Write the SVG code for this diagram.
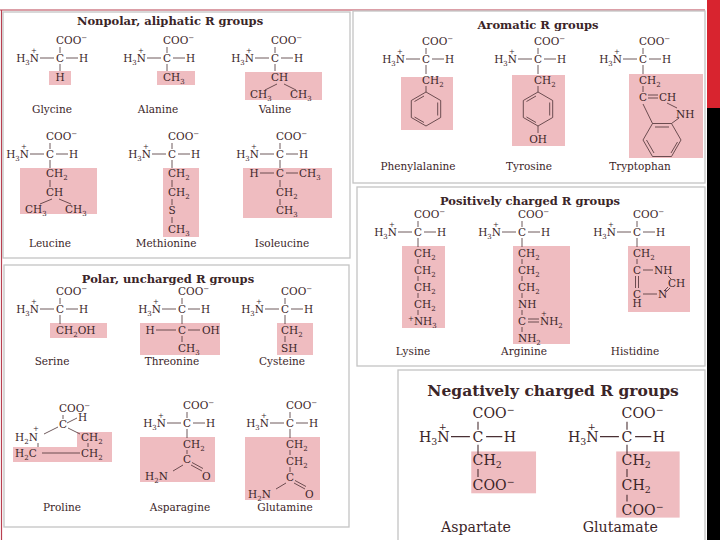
<svg xmlns="http://www.w3.org/2000/svg" width="720" height="540" viewBox="0 0 720 540">
<style>
text{font-family:"DejaVu Serif","Liberation Serif",serif;font-size:10.5px;fill:#3b2528}
.h{font-weight:bold;font-size:11.5px;text-anchor:middle}
.nm{text-anchor:middle;font-size:10.5px}
.m{text-anchor:middle}
.e{text-anchor:end}
.s{font-size:7px;baseline-shift:-2.5px}
.sp{font-size:7px;baseline-shift:4px}
.pl{font-size:7px}
.ln{stroke:#4a3034;stroke-width:0.8;fill:none}
.bx{fill:#efbcc0}
.pn{fill:#fff;stroke:#c4c4c4;stroke-width:1.3}
</style>
<rect width="720" height="540" fill="#fff"/>
<rect x="707" y="0" width="13" height="108" fill="#d8242f"/>
<rect x="707" y="108" width="13" height="432" fill="#000"/>
<path d="M0,10H705M1.5,10V540" stroke="#b84050" stroke-width="1.2" fill="none"/>

<g id="panels">
<rect class="pn" x="3" y="12" width="347" height="246"/>
<rect class="pn" x="353" y="11" width="352" height="172"/>
<rect class="pn" x="357" y="187" width="348" height="179"/>
<rect class="pn" x="4" y="265" width="345" height="262"/>
<rect class="pn" x="398" y="370" width="307" height="172"/>
</g>

<g id="titles">
<text class="h" x="170" y="25">Nonpolar, aliphatic R groups</text>
<text class="h" x="538" y="29">Aromatic R groups</text>
<text class="h" x="530" y="205">Positively charged R groups</text>
<text class="h" x="168" y="283">Polar, uncharged R groups</text>
<text class="h" x="553" y="396" style="font-size:15.5px">Negatively charged R groups</text>
</g>

<!-- Nonpolar -->
<g id="glycine" transform="translate(60,62)">
<rect class="bx" x="-11" y="9" width="22" height="14"/>
<text x="-4" y="-18">COO<tspan class="sp">−</tspan></text><text class="e" x="-21" y="0">H<tspan class="s">3</tspan>N</text><text class="pl" x="-29" y="-9">+</text><text class="m" x="0" y="0">C</text><text x="19" y="0">H</text>
<path class="ln" d="M0,-15V-9M-20,-4H-6M6,-4H18M0,2V9"/>
<text class="m" x="0" y="19">H</text>
<text class="nm" x="-8" y="51">Glycine</text>
</g>
<g id="alanine" transform="translate(167,62)">
<rect class="bx" x="-10" y="9" width="38" height="14"/>
<text x="-4" y="-18">COO<tspan class="sp">−</tspan></text><text class="e" x="-21" y="0">H<tspan class="s">3</tspan>N</text><text class="pl" x="-29" y="-9">+</text><text class="m" x="0" y="0">C</text><text x="19" y="0">H</text>
<path class="ln" d="M0,-15V-9M-20,-4H-6M6,-4H18M0,2V9"/>
<text x="-4" y="19">CH<tspan class="s">3</tspan></text>
<text class="nm" x="-9" y="51">Alanine</text>
</g>
<g id="valine" transform="translate(275,62)">
<rect class="bx" x="-30" y="10" width="77" height="28"/>
<text x="-4" y="-18">COO<tspan class="sp">−</tspan></text><text class="e" x="-21" y="0">H<tspan class="s">3</tspan>N</text><text class="pl" x="-29" y="-9">+</text><text class="m" x="0" y="0">C</text><text x="19" y="0">H</text>
<path class="ln" d="M0,-15V-9M-20,-4H-6M6,-4H18M0,2V9M2,22L-10,28M9,22L21,28"/>
<text x="-4" y="19">CH</text>
<text x="-25" y="36">CH<tspan class="s">3</tspan></text><text x="15" y="36">CH<tspan class="s">3</tspan></text>
<text class="nm" x="0" y="51">Valine</text>
</g>
<g id="leucine" transform="translate(50,158)">
<rect class="bx" x="-30" y="10" width="77" height="46"/>
<text x="-4" y="-18">COO<tspan class="sp">−</tspan></text><text class="e" x="-21" y="0">H<tspan class="s">3</tspan>N</text><text class="pl" x="-29" y="-9">+</text><text class="m" x="0" y="0">C</text><text x="19" y="0">H</text>
<path class="ln" d="M0,-15V-9M-20,-4H-6M6,-4H18M0,2V10M0,22V29M2,41L-10,46M9,41L21,46"/>
<text x="-4" y="19">CH<tspan class="s">2</tspan></text>
<text x="-4" y="38">CH</text>
<text x="-25" y="55">CH<tspan class="s">3</tspan></text><text x="15" y="55">CH<tspan class="s">3</tspan></text>
<text class="nm" x="0" y="89">Leucine</text>
</g>
<g id="methionine" transform="translate(172,158)">
<rect class="bx" x="-9" y="10" width="36" height="69"/>
<text x="-4" y="-18">COO<tspan class="sp">−</tspan></text><text class="e" x="-21" y="0">H<tspan class="s">3</tspan>N</text><text class="pl" x="-29" y="-9">+</text><text class="m" x="0" y="0">C</text><text x="19" y="0">H</text>
<path class="ln" d="M0,-15V-9M-20,-4H-6M6,-4H18M0,2V10M0,22V29M0,41V47M0,59V65"/>
<text x="-4" y="19">CH<tspan class="s">2</tspan></text>
<text x="-4" y="38">CH<tspan class="s">2</tspan></text>
<text class="m" x="0" y="56">S</text>
<text x="-4" y="75">CH<tspan class="s">3</tspan></text>
<text class="nm" x="-6" y="89">Methionine</text>
</g>
<g id="isoleucine" transform="translate(280,158)">
<rect class="bx" x="-37" y="10" width="89" height="50"/>
<text x="-4" y="-18">COO<tspan class="sp">−</tspan></text><text class="e" x="-21" y="0">H<tspan class="s">3</tspan>N</text><text class="pl" x="-29" y="-9">+</text><text class="m" x="0" y="0">C</text><text x="19" y="0">H</text>
<path class="ln" d="M0,-15V-9M-20,-4H-6M6,-4H18M0,2V10M-20,15H-6M6,15H18M0,22V29M0,41V47"/>
<text class="m" x="-26" y="19">H</text><text class="m" x="0" y="19">C</text><text x="19" y="19">CH<tspan class="s">3</tspan></text>
<text x="-4" y="38">CH<tspan class="s">2</tspan></text>
<text x="-4" y="56">CH<tspan class="s">3</tspan></text>
<text class="nm" x="2" y="89">Isoleucine</text>
</g>

<!-- Aromatic -->
<g id="phenylalanine" transform="translate(426,63)">
<rect class="bx" x="-25" y="14" width="52" height="53"/>
<text x="-4" y="-18">COO<tspan class="sp">−</tspan></text><text class="e" x="-21" y="0">H<tspan class="s">3</tspan>N</text><text class="pl" x="-29" y="-9">+</text><text class="m" x="0" y="0">C</text><text x="19" y="0">H</text>
<path class="ln" d="M0,-15V-9M-20,-4H-6M6,-4H18M0,2V11M0,23V29"/>
<text x="-4" y="21">CH<tspan class="s">2</tspan></text>
<path class="ln" d="M0,29L14.7,37.5V54.5L0,63L-14.7,54.5V37.5Z M11.7,39.5V52.5 M-2,59.5L-11.5,54 M-11.5,38.5L-2,33"/>
<text class="nm" x="-8" y="107">Phenylalanine</text>
</g>
<g id="tyrosine" transform="translate(538,63)">
<rect class="bx" x="-26" y="12" width="53" height="71"/>
<text x="-4" y="-18">COO<tspan class="sp">−</tspan></text><text class="e" x="-21" y="0">H<tspan class="s">3</tspan>N</text><text class="pl" x="-29" y="-9">+</text><text class="m" x="0" y="0">C</text><text x="19" y="0">H</text>
<path class="ln" d="M0,-15V-9M-20,-4H-6M6,-4H18M0,2V11M0,23V29M0,63V70"/>
<text x="-4" y="21">CH<tspan class="s">2</tspan></text>
<path class="ln" d="M0,29L14.7,37.5V54.5L0,63L-14.7,54.5V37.5Z M11.7,39.5V52.5 M-2,59.5L-11.5,54 M-11.5,38.5L-2,33"/>
<text class="m" x="0" y="80">OH</text>
<text class="nm" x="-9" y="107">Tyrosine</text>
</g>
<g id="tryptophan" transform="translate(643,63)">
<rect class="bx" x="-14" y="11" width="74" height="84"/>
<text x="-4" y="-18">COO<tspan class="sp">−</tspan></text><text class="e" x="-21" y="0">H<tspan class="s">3</tspan>N</text><text class="pl" x="-29" y="-9">+</text><text class="m" x="0" y="0">C</text><text x="19" y="0">H</text>
<path class="ln" d="M0,-15V-9M-20,-4H-6M6,-4H18M0,2V11M0,23V29M5,32H15M5,35H15M24,40L34,45M0,41L9.5,60.5M36,55L28.5,60.5"/>
<text x="-4" y="21">CH<tspan class="s">2</tspan></text>
<text class="m" x="0" y="38">C</text><text x="16" y="38">CH</text>
<text x="33" y="55">NH</text>
<path class="ln" d="M38,77L28.5,60.5H9.5L0,77L9.5,93.5H28.5Z M3.5,77L11,90 M28,90L34.5,79 M12,64H26"/>
<text class="nm" x="-3" y="107">Tryptophan</text>
</g>

<!-- Positive -->
<g id="lysine" transform="translate(418,236)">
<rect class="bx" x="-16" y="10" width="43" height="82"/>
<text x="-4" y="-18">COO<tspan class="sp">−</tspan></text><text class="e" x="-21" y="0">H<tspan class="s">3</tspan>N</text><text class="pl" x="-29" y="-9">+</text><text class="m" x="0" y="0">C</text><text x="19" y="0">H</text>
<path class="ln" d="M0,-15V-9M-20,-4H-6M6,-4H18M0,2V11M0,23V28M0,40V45M0,57V62M0,74V79"/>
<text x="-4" y="21">CH<tspan class="s">2</tspan></text>
<text x="-4" y="38">CH<tspan class="s">2</tspan></text>
<text x="-4" y="55">CH<tspan class="s">2</tspan></text>
<text x="-4" y="72">CH<tspan class="s">2</tspan></text>
<text x="-10" y="89"><tspan class="sp">+</tspan>NH<tspan class="s">3</tspan></text>
<text class="nm" x="-5" y="119">Lysine</text>
</g>
<g id="arginine" transform="translate(522,236)">
<rect class="bx" x="-9" y="10" width="57" height="98"/>
<text x="-4" y="-18">COO<tspan class="sp">−</tspan></text><text class="e" x="-21" y="0">H<tspan class="s">3</tspan>N</text><text class="pl" x="-29" y="-9">+</text><text class="m" x="0" y="0">C</text><text x="19" y="0">H</text>
<path class="ln" d="M0,-15V-9M-20,-4H-6M6,-4H18M0,2V11M0,23V28M0,40V45M0,57V62M0,74V79M6,83H17M6,86H17M0,91V96"/>
<text x="-4" y="21">CH<tspan class="s">2</tspan></text>
<text x="-4" y="38">CH<tspan class="s">2</tspan></text>
<text x="-4" y="55">CH<tspan class="s">2</tspan></text>
<text x="-4" y="72">NH</text>
<text class="m" x="0" y="89">C</text><text x="18" y="89">NH<tspan class="s">2</tspan></text><text class="pl" x="19" y="80">+</text>
<text x="-4" y="106">NH<tspan class="s">2</tspan></text>
<text class="nm" x="2" y="119">Arginine</text>
</g>
<g id="histidine" transform="translate(637,236)">
<rect class="bx" x="-9" y="10" width="62" height="66"/>
<text x="-4" y="-18">COO<tspan class="sp">−</tspan></text><text class="e" x="-21" y="0">H<tspan class="s">3</tspan>N</text><text class="pl" x="-29" y="-9">+</text><text class="m" x="0" y="0">C</text><text x="19" y="0">H</text>
<path class="ln" d="M0,-15V-9M-20,-4H-6M6,-4H18M0,2V11M0,23V28M6,34H16M-1.5,40V52M1.5,40V52M6,58H20M31,40L34,43M31,51L27,55M33,52L29,56"/>
<text x="-4" y="21">CH<tspan class="s">2</tspan></text>
<text class="m" x="0" y="38">C</text><text x="17" y="38">NH</text>
<text x="31" y="51">CH</text>
<text class="m" x="0" y="62">C</text><text x="21" y="62">N</text>
<text class="m" x="0" y="71">H</text>
<text class="nm" x="-2" y="119">Histidine</text>
</g>

<!-- Polar -->
<g id="serine" transform="translate(60,313)">
<rect class="bx" x="-10" y="10" width="57" height="15"/>
<text x="-4" y="-18">COO<tspan class="sp">−</tspan></text><text class="e" x="-21" y="0">H<tspan class="s">3</tspan>N</text><text class="pl" x="-29" y="-9">+</text><text class="m" x="0" y="0">C</text><text x="19" y="0">H</text>
<path class="ln" d="M0,-15V-9M-20,-4H-6M6,-4H18M0,2V11"/>
<text x="-4" y="21">CH<tspan class="s">2</tspan>OH</text>
<text class="nm" x="-8" y="52">Serine</text>
</g>
<g id="threonine" transform="translate(182,313)">
<rect class="bx" x="-42" y="10" width="80" height="32"/>
<text x="-4" y="-18">COO<tspan class="sp">−</tspan></text><text class="e" x="-21" y="0">H<tspan class="s">3</tspan>N</text><text class="pl" x="-29" y="-9">+</text><text class="m" x="0" y="0">C</text><text x="19" y="0">H</text>
<path class="ln" d="M0,-15V-9M-20,-4H-6M6,-4H18M0,2V11M-26,17H-6M6,17H18M0,23V29"/>
<text class="m" x="-32" y="21">H</text><text class="m" x="0" y="21">C</text><text x="20" y="21">OH</text>
<text x="-4" y="39">CH<tspan class="s">3</tspan></text>
<text class="nm" x="-10" y="52">Threonine</text>
</g>
<g id="cysteine" transform="translate(285,313)">
<rect class="bx" x="-8" y="10" width="36" height="32"/>
<text x="-4" y="-18">COO<tspan class="sp">−</tspan></text><text class="e" x="-21" y="0">H<tspan class="s">3</tspan>N</text><text class="pl" x="-29" y="-9">+</text><text class="m" x="0" y="0">C</text><text x="19" y="0">H</text>
<path class="ln" d="M0,-15V-9M-20,-4H-6M6,-4H18M0,2V11M0,23V29"/>
<text x="-4" y="21">CH<tspan class="s">2</tspan></text>
<text x="-4" y="39">SH</text>
<text class="nm" x="-3" y="52">Cysteine</text>
</g>
<g id="proline">
<path class="bx" d="M77,432H112V462H13V447H77Z"/>
<text x="59" y="412">COO<tspan class="sp">−</tspan></text>
<text class="m" x="63" y="428">C</text><text x="78" y="421">H</text>
<text x="15" y="441">H<tspan class="s">2</tspan>N</text><text class="pl" x="33" y="431">+</text>
<text x="81" y="441">CH<tspan class="s">2</tspan></text>
<text x="15" y="457">H<tspan class="s">2</tspan>C</text>
<text x="81" y="457">CH<tspan class="s">2</tspan></text>
<path class="ln" d="M63,415V419M67,423L77,418M44,434L58,427M68,428L80,434M38,443V447M42,453H80M88,443V447"/>
<text class="nm" x="62" y="511">Proline</text>
</g>
<g id="asparagine" transform="translate(187,427)">
<rect class="bx" x="-47" y="10" width="75" height="45"/>
<text x="-4" y="-18">COO<tspan class="sp">−</tspan></text><text class="e" x="-21" y="0">H<tspan class="s">3</tspan>N</text><text class="pl" x="-29" y="-9">+</text><text class="m" x="0" y="0">C</text><text x="19" y="0">H</text>
<path class="ln" d="M0,-15V-9M-20,-4H-6M6,-4H18M0,2V11M0,23V27M-4,38L-14,44M4,38L15,44M5,35.5L16,41.5"/>
<text x="-4" y="21">CH<tspan class="s">2</tspan></text>
<text class="m" x="0" y="36">C</text>
<text x="-42" y="53">H<tspan class="s">2</tspan>N</text><text x="15" y="53">O</text>
<text class="nm" x="-7" y="84">Asparagine</text>
</g>
<g id="glutamine" transform="translate(290,427)">
<rect class="bx" x="-45" y="10" width="75" height="63"/>
<text x="-4" y="-18">COO<tspan class="sp">−</tspan></text><text class="e" x="-21" y="0">H<tspan class="s">3</tspan>N</text><text class="pl" x="-29" y="-9">+</text><text class="m" x="0" y="0">C</text><text x="19" y="0">H</text>
<path class="ln" d="M0,-15V-9M-20,-4H-6M6,-4H18M0,2V11M0,23V28M0,40V45M-4,56L-14,62M4,56L15,62M5,53.5L16,59.5"/>
<text x="-4" y="21">CH<tspan class="s">2</tspan></text>
<text x="-4" y="38">CH<tspan class="s">2</tspan></text>
<text class="m" x="0" y="54">C</text>
<text x="-42" y="71">H<tspan class="s">2</tspan>N</text><text x="15" y="71">O</text>
<text class="nm" x="-5" y="84">Glutamine</text>
</g>

<!-- Negative -->
<g id="aspartate" transform="translate(478,442) scale(1.35)">
<rect class="bx" x="-5" y="7" width="48" height="31"/>
<text x="-4" y="-18">COO<tspan class="sp">−</tspan></text><text class="e" x="-21" y="0">H<tspan class="s">3</tspan>N</text><text class="pl" x="-29" y="-9">+</text><text class="m" x="0" y="0">C</text><text x="19" y="0">H</text>
<path class="ln" d="M0,-15V-9M-20,-4H-6M6,-4H18M0,2V9M0,20V26"/>
<text x="-4" y="17">CH<tspan class="s">2</tspan></text>
<text x="-4" y="35.5">COO<tspan class="sp">−</tspan></text>
<text class="nm" x="-1.5" y="66.5">Aspartate</text>
</g>
<g id="glutamate" transform="translate(627,442) scale(1.35)">
<rect class="bx" x="-8" y="7" width="47" height="49"/>
<text x="-4" y="-18">COO<tspan class="sp">−</tspan></text><text class="e" x="-21" y="0">H<tspan class="s">3</tspan>N</text><text class="pl" x="-29" y="-9">+</text><text class="m" x="0" y="0">C</text><text x="19" y="0">H</text>
<path class="ln" d="M0,-15V-9M-20,-4H-6M6,-4H18M0,2V9M0,20V26M0,39V44"/>
<text x="-4" y="17">CH<tspan class="s">2</tspan></text>
<text x="-4" y="35.5">CH<tspan class="s">2</tspan></text>
<text x="-4" y="54">COO<tspan class="sp">−</tspan></text>
<text class="nm" x="-5" y="66.5">Glutamate</text>
</g>
</svg>
